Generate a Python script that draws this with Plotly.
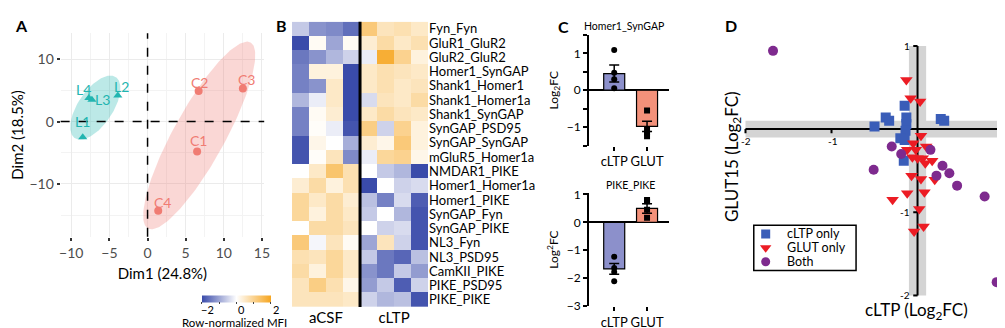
import numpy as np
import plotly.graph_objects as go

W, H = 1005, 328
FONT = "Lato"

# ---------------- Panel A: PCA ----------------
PCA_LABELS = ["L1", "L2", "L3", "L4", "C1", "C2", "C3", "C4"]
PCA_DIM1 = [-8.5, -3.9, -7.3, -7.7, 6.5, 6.7, 12.5, 1.4]
PCA_DIM2 = [-2.5, 4.2, 3.5, 3.8, -4.8, 4.9, 5.3, -14.3]
PCA_GROUP = ["L", "L", "L", "L", "C", "C", "C", "C"]

# ---------------- Panel B: heatmap ----------------
HM_ROWS = ["Fyn_Fyn", "GluR1_GluR2", "GluR2_GluR2", "Homer1_SynGAP", "Shank1_Homer1",
           "Shank1_Homer1a", "Shank1_SynGAP", "SynGAP_PSD95", "SynGAP_SynGAP",
           "mGluR5_Homer1a", "NMDAR1_PIKE", "Homer1_Homer1a", "Homer1_PIKE",
           "SynGAP_Fyn", "SynGAP_PIKE", "NL3_Fyn", "NL3_PSD95", "CamKII_PIKE",
           "PIKE_PSD95", "PIKE_PIKE"]
HM_COLS = ["aCSF1", "aCSF2", "aCSF3", "aCSF4", "cLTP1", "cLTP2", "cLTP3", "cLTP4"]
HM_Z = [
    [-0.6, -1.2, -1.3, -1.6, 1.2, 0.6, 0.7, 0.5],
    [-2.0, 0.1, -1.0, 0.1, 0.4, 0.8, 0.5, 0.7],
    [-1.5, -1.2, -0.8, -0.5, -0.2, 1.8, 1.0, 0.3],
    [-1.4, 0.3, 0.3, -2.0, 0.5, 0.7, 0.6, 0.5],
    [-1.4, -1.2, 0.5, -2.0, 0.5, 0.7, 0.5, 0.6],
    [-0.8, -0.2, 0.5, -2.0, -0.4, 0.6, 0.5, 0.8],
    [-1.4, 0.1, 0.4, -2.0, 0.5, 0.8, 0.6, 0.5],
    [-1.4, 0.05, -0.2, -1.9, 1.1, -0.5, 1.0, 0.3],
    [-1.9, 0.2, 0.0, -0.9, 0.4, 0.2, 1.2, 0.3],
    [-1.9, 0.05, 0.6, -1.3, -0.2, 0.9, 1.0, 0.2],
    [0.0, 0.5, 1.3, 0.7, 0.0, -0.6, -0.8, -2.0],
    [0.4, 0.8, 0.3, 0.7, -2.0, 0.0, -0.5, -0.4],
    [0.9, 0.5, 0.8, 0.4, -0.7, -1.4, -0.4, -1.8],
    [0.9, 0.3, 0.8, 0.5, -0.6, 0.0, -0.8, -1.9],
    [0.0, 0.8, 0.8, 0.6, 0.0, -0.5, -0.4, -1.9],
    [1.2, -0.1, 0.6, 0.1, -1.0, 0.6, -0.5, -1.9],
    [0.7, 0.6, 0.9, 0.5, -0.6, -1.5, -1.7, -0.7],
    [0.8, 0.3, 0.9, 0.5, -1.2, -1.5, -0.6, -1.1],
    [0.6, 1.1, 0.7, 0.2, -1.1, -0.6, -1.8, -0.5],
    [0.6, 0.6, 0.6, 0.5, -0.5, -0.8, -0.7, -1.9],
]
HM_GROUP_LABELS = ["aCSF", "cLTP"]
CB_TICKS = [-2, 0, 2]

# ---------------- Panel C: bars ----------------
C_GROUPS = ["cLTP", "GLUT"]
C1_TITLE = "Homer1_SynGAP"
C1_MEAN = [0.45, -0.98]
C1_SEM = [0.23, 0.14]
C1_PTS_CLTP = [1.09, 0.47, 0.3, 0.05]
C1_PTS_GLUT = [-0.55, -1.08, -1.15, -1.25]
C2_TITLE = "PIKE_PIKE"
C2_MEAN = [-1.67, 0.5]
C2_SEM = [0.19, 0.17]
C2_PTS_CLTP = [-1.23, -1.64, -1.78, -2.11]
C2_PTS_GLUT = [0.8, 0.76, 0.45, 0.17]

# ---------------- Panel D: scatter ----------------
CLTP_ONLY_X = [-0.15, -0.37, -0.33, -0.5, -0.13, -0.13, -0.14, -0.2, -0.15, 0.27, 0.31, -0.16]
CLTP_ONLY_Y = [0.28, 0.14, 0.10, 0.03, 0.14, 0.06, -0.02, -0.11, -0.13, 0.12, 0.10, -0.38]
GLUT_ONLY_X = [-0.13, -0.08, 0.03, 0.04, -0.05, -0.12, -0.02, 0.10, 0.0, -0.06, 0.06, 0.09,
               0.17, -0.07, 0.04, 0.20, -0.12, 0.08, -0.29, 0.02, 0.07, -0.04]
GLUT_ONLY_Y = [0.59, 0.37, 0.33, -0.08, -0.17, -0.25, -0.25, -0.21, -0.35, -0.34, -0.35, -0.41,
               -0.38, -0.56, -0.60, -0.61, -0.77, -0.76, -0.85, -0.96, -1.17, -1.23]
BOTH_X = [-1.68, -0.30, -0.19, 0.15, -0.51, 0.29, 0.37, 0.22, 0.46, 0.78, 0.92]
BOTH_Y = [0.94, -0.21, -0.30, -0.25, -0.49, -0.44, -0.53, -0.56, -0.68, -0.81, -1.84]
D_SERIES = ["cLTP only", "GLUT only", "Both"]
D_XTICKS = [-2, -1, 1]
D_YTICKS = [1, -1, -2]
D_BAND = 0.1


def dom_x(p0, p1):
    return [p0 / W, p1 / W]


def dom_y(p0, p1):
    return [1 - p1 / H, 1 - p0 / H]


def paper_text(px, py, text, size, angle=0, xanchor="center", color="black"):
    return dict(x=px / W, y=1 - py / H, xref="paper", yref="paper", text=text,
                showarrow=False, xanchor=xanchor, yanchor="middle", textangle=angle,
                font=dict(size=size, family=FONT, color=color))


fig = go.Figure()
shapes = []
annotations = []

# ======== Panel A ========
TEAL = "#22B5B0"
SALMON = "#F07C73"
for grp, col in [("L", TEAL), ("C", SALMON)]:
    idx = [i for i, g in enumerate(PCA_GROUP) if g == grp]
    xs = np.array([PCA_DIM1[i] for i in idx])
    ys = np.array([PCA_DIM2[i] for i in idx])
    cov = np.cov(np.vstack([xs, ys]))
    vals, vecs = np.linalg.eigh(cov)
    t = np.linspace(0, 2 * np.pi, 200)
    circ = np.vstack([np.cos(t), np.sin(t)])
    k = 1.62
    ell = vecs @ (np.diag(np.sqrt(vals)) * k) @ circ
    fig.add_trace(go.Scatter(x=xs.mean() + ell[0], y=ys.mean() + ell[1], mode="lines",
                             fill="toself", fillcolor=col, opacity=0.3,
                             line=dict(width=0), hoverinfo="skip", showlegend=False,
                             xaxis="x", yaxis="y"))

label_shift = {"L1": (0, 16), "L2": (4, 9), "L3": (11, 0), "L4": (-5, 8),
               "C1": (1, 11), "C2": (1, 9), "C3": (4, 9), "C4": (4, 8)}
for grp, col, sym in [("L", TEAL, "triangle-up"), ("C", SALMON, "circle")]:
    idx = [i for i, g in enumerate(PCA_GROUP) if g == grp]
    fig.add_trace(go.Scatter(x=[PCA_DIM1[i] for i in idx], y=[PCA_DIM2[i] for i in idx],
                             mode="markers", marker=dict(color=col, size=8, symbol=sym),
                             showlegend=False, xaxis="x", yaxis="y"))
    for i in idx:
        sx, sy = label_shift[PCA_LABELS[i]]
        annotations.append(dict(x=PCA_DIM1[i], y=PCA_DIM2[i], xref="x", yref="y",
                                text=PCA_LABELS[i], showarrow=False, xshift=sx, yshift=sy,
                                xanchor="center", yanchor="middle",
                                font=dict(color=col, size=14, family=FONT)))

shapes.append(dict(type="line", xref="x", yref="y domain", x0=0, x1=0, y0=0, y1=1,
                   line=dict(color="black", width=1.5, dash="dash")))
shapes.append(dict(type="line", xref="x domain", yref="y", x0=0, x1=1, y0=0, y1=0,
                   line=dict(color="black", width=1.5, dash="dash")))

# ======== Panel B ========
CB_X0, CB_X1 = 200, 269
fig.add_trace(go.Heatmap(
    z=HM_Z, x=list(range(len(HM_COLS))), y=HM_ROWS, zmin=-2, zmax=2,
    colorscale=[[0, "#3A4BAA"], [0.5, "#FFFFFF"], [1, "#F6A51F"]],
    xaxis="x2", yaxis="y2", hoverinfo="skip",
    colorbar=dict(orientation="h", x=229 / W, xanchor="center", y=1 - 298 / H,
                  yanchor="middle", lenmode="pixels", len=69, thickness=7,
                  xpad=0, ypad=0, thicknessmode="pixels", showticklabels=False,
                  tickvals=[-2, -1, 0, 1, 2], ticks="outside", ticklen=2, outlinewidth=0)))
for v in CB_TICKS:
    px = CB_X0 + (v - CB_TICKS[0]) / (CB_TICKS[-1] - CB_TICKS[0]) * (CB_X1 - CB_X0)
    annotations.append(paper_text(px, 307.5, str(v).replace("-", "\u2212"), 11))
shapes.append(dict(type="line", xref="x2", yref="y2 domain", x0=3.5, x1=3.5, y0=0, y1=1,
                   line=dict(color="black", width=3)))
annotations.append(paper_text(227, 321, "Row-normalized MFI", 11.5))

# ======== Panel C ========
BAR_COLORS = ["#8C90CB", "#F3917A"]


def add_bar_panel(xa, ya, mean, sem, pts_a, pts_b):
    fig.add_trace(go.Bar(x=[0, 1], y=mean, width=0.64, marker=dict(color=BAR_COLORS,
                         line=dict(color="black", width=1.2)),
                         error_y=dict(type="data", array=sem, color="black", thickness=1.5, width=5),
                         showlegend=False, xaxis=xa, yaxis=ya))
    fig.add_trace(go.Scatter(x=[0] * len(pts_a), y=pts_a, mode="markers",
                             marker=dict(color="black", size=6, symbol="circle"),
                             showlegend=False, xaxis=xa, yaxis=ya))
    fig.add_trace(go.Scatter(x=[1] * len(pts_b), y=pts_b, mode="markers",
                             marker=dict(color="black", size=6, symbol="square"),
                             showlegend=False, xaxis=xa, yaxis=ya))


add_bar_panel("x3", "y3", C1_MEAN, C1_SEM, C1_PTS_CLTP, C1_PTS_GLUT)
add_bar_panel("x4", "y4", C2_MEAN, C2_SEM, C2_PTS_CLTP, C2_PTS_GLUT)
annotations.append(paper_text(619, 13, C1_TITLE, 10.5))
annotations.append(paper_text(626, 178, C2_TITLE, 10.5))

# ======== Panel D ========
D_STYLE = {"cLTP only": ("#3A5DB8", "square", 10),
           "GLUT only": ("#EC1C24", "triangle-down", 11),
           "Both": ("#7E2A8E", "circle", 10)}
D_DATA = {"cLTP only": (CLTP_ONLY_X, CLTP_ONLY_Y),
          "GLUT only": (GLUT_ONLY_X, GLUT_ONLY_Y),
          "Both": (BOTH_X, BOTH_Y)}
for name in D_SERIES:
    col, sym, sz = D_STYLE[name]
    xs, ys = D_DATA[name]
    fig.add_trace(go.Scatter(x=xs, y=ys, mode="markers", name=name, showlegend=False,
                             marker=dict(color=col, size=sz, symbol=sym),
                             xaxis="x5", yaxis="y5"))

GREY = "#D4D4D4"
shapes.append(dict(type="rect", xref="x5", yref="y5", x0=-2, x1=1.04, y0=-D_BAND, y1=D_BAND,
                   fillcolor=GREY, line=dict(width=0), layer="below"))
shapes.append(dict(type="rect", xref="x5", yref="y5", x0=-D_BAND, x1=D_BAND, y0=-2, y1=1,
                   fillcolor=GREY, line=dict(width=0), layer="below"))
shapes.append(dict(type="line", xref="x5", yref="y5", x0=-2, x1=1, y0=0, y1=0,
                   line=dict(color="black", width=2), layer="below"))
shapes.append(dict(type="line", xref="x5", yref="y5", x0=0, x1=0, y0=-2, y1=1,
                   line=dict(color="black", width=2), layer="below"))
tk = 0.05
for v in D_XTICKS:
    shapes.append(dict(type="line", xref="x5", yref="y5", x0=v, x1=v, y0=0, y1=-tk,
                       line=dict(color="black", width=2), layer="below"))
    annotations.append(dict(x=v, y=-tk, xref="x5", yref="y5", text=str(v),
                            showarrow=False, yanchor="top", xanchor="center",
                            xshift=(-2 if v == 1 else 1),
                            font=dict(size=10, family=FONT, color="black")))
for v in D_YTICKS:
    shapes.append(dict(type="line", xref="x5", yref="y5", x0=-tk, x1=0, y0=v, y1=v,
                       line=dict(color="black", width=2), layer="below"))
    annotations.append(dict(x=-tk, y=v, xref="x5", yref="y5", text=str(v),
                            showarrow=False, xanchor="right", yanchor="middle", xshift=-1,
                            font=dict(size=10, family=FONT, color="black")))
annotations.append(paper_text(729, 148, "GLUT15 (Log<sub>2</sub>FC)", 17, angle=-90))
annotations.append(paper_text(914, 309, "cLTP (Log<sub>2</sub>FC)", 17))

# manual legend box for panel D (own small axis)
LEG_X0, LEG_X1, LEG_Y0, LEG_Y1 = 750, 853, 220, 267
shapes.append(dict(type="rect", xref="paper", yref="paper", x0=LEG_X0 / W, x1=LEG_X1 / W,
                   y0=1 - LEG_Y1 / H, y1=1 - LEG_Y0 / H, line=dict(color="black", width=1.5),
                   fillcolor="white", layer="below"))
for i, name in enumerate(D_SERIES):
    col, sym, sz = D_STYLE[name]
    yy = 9 + 14.5 * i
    fig.add_trace(go.Scatter(x=[12], y=[yy], mode="markers", showlegend=False,
                             marker=dict(color=col, size=sz - 1, symbol=sym),
                             xaxis="x6", yaxis="y6", hoverinfo="skip"))
    annotations.append(dict(x=31, y=yy, xref="x6", yref="y6", text=name,
                            showarrow=False, xanchor="left", yanchor="middle",
                            font=dict(size=12.5, family=FONT, color="black")))

# panel letters
for letter, px, py in [("A", 13, 12), ("B", 274, 12), ("C", 558, 13), ("D", 727, 12)]:
    annotations.append(paper_text(px, py, f"<b>{letter}</b>", 16))

tickfontA = dict(size=14, family=FONT, color="#4D4D4D")
axis_c = dict(showline=True, linecolor="black", linewidth=1.5, ticks="outside", ticklen=4,
              tickwidth=1.5, tickcolor="black", showgrid=False,
              tickfont=dict(size=12, family=FONT, color="black"))

fig.update_layout(
    width=W, height=H, margin=dict(l=0, r=0, t=0, b=0),
    paper_bgcolor="white", plot_bgcolor="rgba(0,0,0,0)",
    font=dict(family=FONT, color="black"), showlegend=False,
    shapes=shapes, annotations=annotations,
    xaxis=dict(domain=dom_x(52, 257), range=[-11.4, 15.3], tickvals=[-10, -5, 0, 5, 10, 15],
               ticktext=["\u221210", "\u22125", "0", "5", "10", "15"],
               showgrid=True, gridcolor="#EBEBEB", gridwidth=1, anchor="y",
               minor=dict(dtick=2.5, tick0=0, showgrid=True, gridcolor="#F3F3F3"),
               zeroline=False, ticks="outside", ticklen=3, tickcolor="#333", tickwidth=1.5,
               tickfont=tickfontA,
               title=dict(text="Dim1 (24.8%)", font=dict(size=15, family=FONT), standoff=8)),
    yaxis=dict(domain=dom_y(20, 232), range=[-18.5, 14.2], tickvals=[-10, 0, 10],
               ticktext=["\u221210", "0", "10"], anchor="x",
               showgrid=True, gridcolor="#EBEBEB", gridwidth=1,
               minor=dict(dtick=5, tick0=0, showgrid=True, gridcolor="#F3F3F3"),
               zeroline=False, ticks="outside", ticklen=3, tickcolor="#333", tickwidth=1.5,
               tickfont=tickfontA,
               title=dict(text="Dim2 (18.5%)", font=dict(size=15, family=FONT), standoff=6)),
    xaxis2=dict(domain=dom_x(285, 422), range=[-0.5, 7.5], tickvals=[1.5, 5.5], anchor="y2",
                ticktext=HM_GROUP_LABELS, showgrid=False, zeroline=False, ticks="",
                tickfont=dict(size=15, family=FONT, color="black")),
    yaxis2=dict(domain=dom_y(8, 305), autorange="reversed", side="right", showgrid=False,
                anchor="x2", tickmode="array", tickvals=HM_ROWS, ticklabelstandoff=0,
                zeroline=False, ticks="", tickfont=dict(size=13, family=FONT, color="black")),
    xaxis3=dict(domain=dom_x(584, 665), range=[-0.77, 1.68], tickvals=[0, 1], ticktext=C_GROUPS,
                showline=False, ticks="outside", ticklen=4, tickwidth=1.5, tickcolor="black",
                showgrid=False, zeroline=False, anchor="y3",
                tickfont=dict(size=13, family=FONT, color="black")),
    yaxis3=dict(domain=dom_y(21.7, 137), range=[-1.5, 1.5], tickvals=[-1, 0, 1],
                minor=dict(dtick=0.5, ticks="outside", ticklen=4, tickcolor="black"),
                zeroline=True, zerolinecolor="black", zerolinewidth=1.5, anchor="x3",
                title=dict(text="Log<sub>2</sub>FC", font=dict(size=12, family=FONT), standoff=6),
                **axis_c),
    xaxis4=dict(domain=dom_x(584, 665), range=[-0.77, 1.68], tickvals=[0, 1], ticktext=C_GROUPS,
                showline=False, ticks="outside", ticklen=4, tickwidth=1.5, tickcolor="black",
                showgrid=False, zeroline=False, anchor="y4",
                tickfont=dict(size=13, family=FONT, color="black")),
    yaxis4=dict(domain=dom_y(186.5, 304), range=[-3, 1.05], tickvals=[-3, -2, -1, 0, 1],
                zeroline=True, zerolinecolor="black", zerolinewidth=1.5, anchor="x4",
                title=dict(text="Log<sup>2</sup>FC", font=dict(size=12, family=FONT), standoff=6),
                **axis_c),
    xaxis5=dict(domain=dom_x(733, 1005), range=[-2.1, 1.04], visible=False, anchor="y5"),
    yaxis5=dict(domain=dom_y(15, 300), range=[-2.08, 1.21], visible=False, anchor="x5"),
    xaxis6=dict(domain=dom_x(LEG_X0, LEG_X1), range=[0, LEG_X1 - LEG_X0], visible=False,
                anchor="y6"),
    yaxis6=dict(domain=dom_y(LEG_Y0, LEG_Y1), range=[LEG_Y1 - LEG_Y0, 0], visible=False,
                anchor="x6"),
)

fig.write_html("out.html")
